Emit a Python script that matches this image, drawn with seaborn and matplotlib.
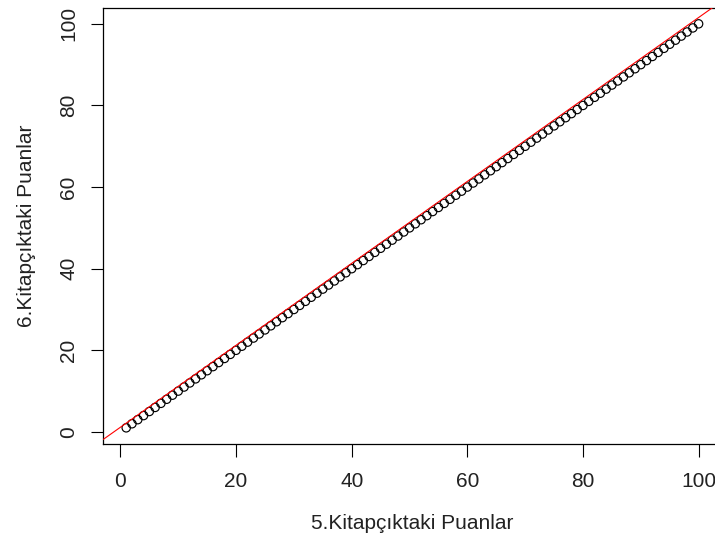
import matplotlib
matplotlib.use("Agg")
import matplotlib.pyplot as plt
import seaborn as sns
import pandas as pd

# Raw scores on booklet 5 and their equated scores on booklet 6
score_form5 = [
    1, 2, 3, 4, 5, 6, 7, 8, 9, 10, 11, 12, 13, 14, 15, 16, 17, 18, 19, 20,
    21, 22, 23, 24, 25, 26, 27, 28, 29, 30, 31, 32, 33, 34, 35, 36, 37, 38, 39, 40,
    41, 42, 43, 44, 45, 46, 47, 48, 49, 50, 51, 52, 53, 54, 55, 56, 57, 58, 59, 60,
    61, 62, 63, 64, 65, 66, 67, 68, 69, 70, 71, 72, 73, 74, 75, 76, 77, 78, 79, 80,
    81, 82, 83, 84, 85, 86, 87, 88, 89, 90, 91, 92, 93, 94, 95, 96, 97, 98, 99, 100,
]
score_form6 = [
    1, 2, 3, 4, 5, 6, 7, 8, 9, 10, 11, 12, 13, 14, 15, 16, 17, 18, 19, 20,
    21, 22, 23, 24, 25, 26, 27, 28, 29, 30, 31, 32, 33, 34, 35, 36, 37, 38, 39, 40,
    41, 42, 43, 44, 45, 46, 47, 48, 49, 50, 51, 52, 53, 54, 55, 56, 57, 58, 59, 60,
    61, 62, 63, 64, 65, 66, 67, 68, 69, 70, 71, 72, 73, 74, 75, 76, 77, 78, 79, 80,
    81, 82, 83, 84, 85, 86, 87, 88, 89, 90, 91, 92, 93, 94, 95, 96, 97, 98, 99, 100,
]
tick_values = [0, 20, 40, 60, 80, 100]

# Reference line (intercept, slope)
ref_intercept = 1.15
ref_slope = 1.004

x_label = "5.Kitapçıktaki Puanlar"
y_label = "6.Kitapçıktaki Puanlar"

df = pd.DataFrame({"x": score_form5, "y": score_form6})

sns.set_theme(style="ticks")
plt.rcParams["font.family"] = ["Liberation Sans", "DejaVu Sans"]

fig = plt.figure(figsize=(7.15, 5.41), dpi=100)
# plot region runs past the right edge of the canvas
ax = fig.add_axes([0.1445, 0.1793, 0.8646, 0.8065])

sns.scatterplot(data=df, x="x", y="y", ax=ax, s=36, marker="o",
                facecolors="none", edgecolor="black", linewidth=0.85,
                zorder=2)
ax.axline((0, ref_intercept), slope=ref_slope, color="red", lw=0.8, zorder=3)

lo = min(score_form5) - 0.04 * (max(score_form5) - min(score_form5))
hi = max(score_form5) + 0.04 * (max(score_form5) - min(score_form5))
ax.set_xlim(lo, hi)
ax.set_ylim(lo, hi)
ax.set_xticks(tick_values)
ax.set_yticks(tick_values)

for side in ["left", "right", "top", "bottom"]:
    ax.spines[side].set_visible(True)
    ax.spines[side].set_color("black")
    ax.spines[side].set_linewidth(0.9)

ax.tick_params(axis="both", direction="out", length=9, width=0.8,
               color="black", labelsize=15, labelcolor="#222222")
ax.tick_params(axis="x", pad=11)
ax.tick_params(axis="y", labelrotation=90, pad=9)
for lab in ax.get_yticklabels():
    lab.set_verticalalignment("center")

ax.set_xlabel(x_label, fontsize=15, color="#222222", labelpad=17)
ax.set_ylabel(y_label, fontsize=15, color="#222222", labelpad=17)

fig.savefig("out.png", dpi=100, facecolor="white")
